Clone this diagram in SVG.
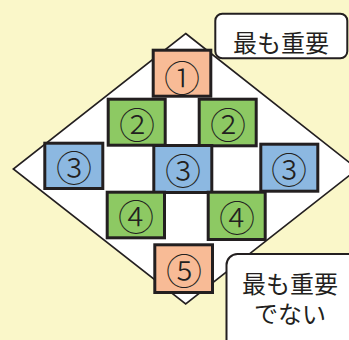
<svg xmlns="http://www.w3.org/2000/svg" width="349" height="340" viewBox="0 0 349 340">
<style>
.box{stroke:#231F20;stroke-width:3}
.o{fill:#F8BB96}
.g{fill:#8DC963}
.b{fill:#8CB8E1}
.num{font-family:"Noto Sans CJK JP","DejaVu Sans",sans-serif;font-size:36px;font-weight:300;fill:#231F20;text-anchor:middle;dominant-baseline:central}
.lbl{fill:#FFFFFF;stroke:#231F20;stroke-width:2}
.lt{font-family:"Noto Sans CJK JP","Noto Sans CJK SC",sans-serif;font-size:24px;fill:#231F20;text-anchor:middle}
</style>
<rect x="0" y="0" width="349" height="340" fill="#FAF7C9"/>
<g id="connectors">
<polygon points="185.7,33.5 357.5,169 185.7,304 13.3,169" fill="#FFFFFF" stroke="#231F20" stroke-width="1.6"/>
</g>
<g id="n1"><rect class="box o" x="153.2" y="50.2" width="57.6" height="46"/><text class="num" x="182" y="76">①</text></g>
<g id="n2a"><rect class="box g" x="108.2" y="99.2" width="57" height="46"/><text class="num" x="137" y="122.5">②</text></g>
<g id="n2b"><rect class="box g" x="199.2" y="99.2" width="57" height="46.6"/><text class="num" x="228" y="122.5">②</text></g>
<g id="n3a"><rect class="box b" x="44.8" y="143.2" width="58" height="45.3"/><text class="num" x="74" y="166">③</text></g>
<g id="n3b"><rect class="box b" x="153.8" y="145.5" width="58" height="47"/><text class="num" x="183" y="169">③</text></g>
<g id="n3c"><rect class="box b" x="260.8" y="144.2" width="57" height="47"/><text class="num" x="289" y="167.5">③</text></g>
<g id="n4a"><rect class="box g" x="107.2" y="192.2" width="57.3" height="45.6"/><text class="num" x="136" y="215">④</text></g>
<g id="n4b"><rect class="box g" x="208.2" y="192.2" width="57" height="47.3"/><text class="num" x="237" y="216">④</text></g>
<g id="n5"><rect class="box o" x="154.8" y="244.8" width="57.7" height="47.7"/><text class="num" x="184" y="268.5">⑤</text></g>
<g id="label-top"><rect class="lbl" x="215.3" y="13.7" width="132" height="44.6" rx="7"/><text class="lt" x="281" y="52">最も重要</text></g>
<g id="label-bottom"><rect class="lbl" x="226.5" y="254" width="140" height="110" rx="11"/><text class="lt" x="290" y="293">最も重要</text><text class="lt" x="290" y="322.5">でない</text></g>
</svg>
